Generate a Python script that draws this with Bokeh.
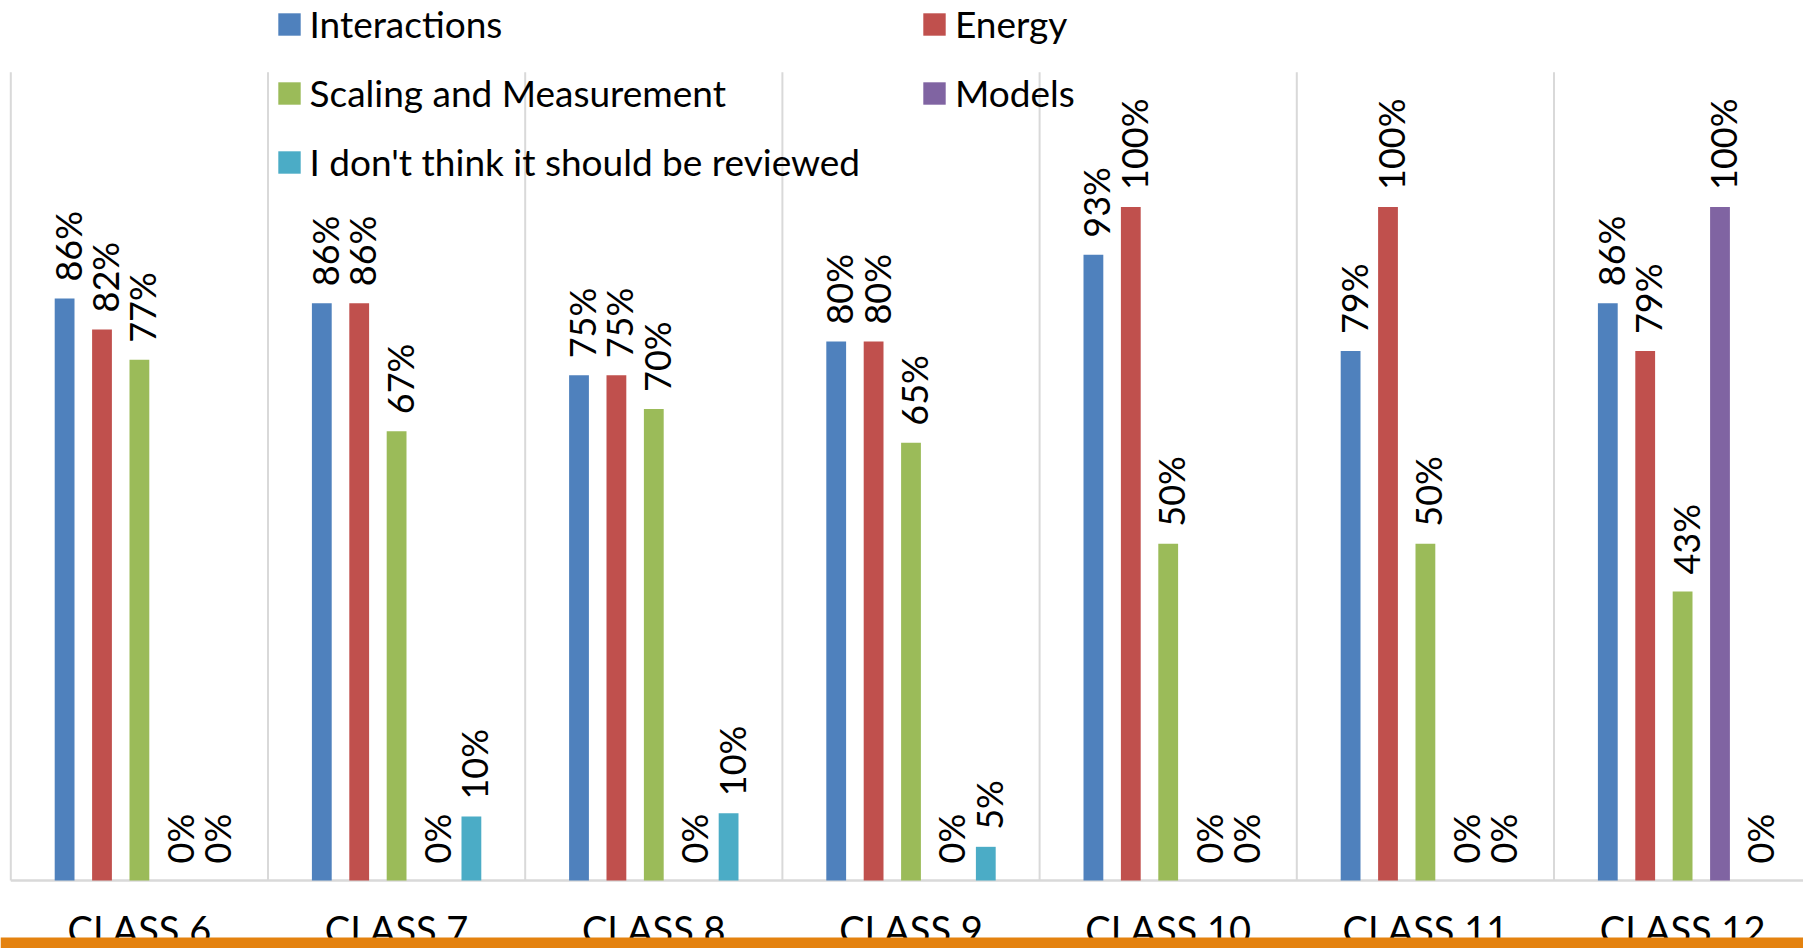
import math
from bokeh.plotting import figure
from bokeh.models import ColumnDataSource, Range1d, Legend, LegendItem, BoxAnnotation
from bokeh.embed import file_html
from bokeh.resources import INLINE
from bokeh.core.properties import value

# ---------------- data ----------------
categories = ["CLASS 6", "CLASS 7", "CLASS 8", "CLASS 9", "CLASS 10", "CLASS 11", "CLASS 12"]
series_names = ["Interactions", "Energy", "Scaling and Measurement", "Models",
                "I don't think it should be reviewed"]
interactions = [0.864, 0.857, 0.750, 0.800, 0.929, 0.786, 0.857]
energy = [0.818, 0.857, 0.750, 0.800, 1.000, 1.000, 0.786]
scaling = [0.773, 0.667, 0.700, 0.650, 0.500, 0.500, 0.429]
models = [0.0, 0.0, 0.0, 0.0, 0.0, 0.0, 1.000]
not_reviewed = [0.0, 0.095, 0.100, 0.050, 0.0, 0.0, 0.0]
series_values = [interactions, energy, scaling, models, not_reviewed]

# ---------------- styling / layout ----------------
colors = ["#4F81BD", "#C0504D", "#9BBB59", "#8064A2", "#4BACC6"]
FONT = "Lato"
GRID = "#D9D9D9"
ORANGE = "#E4820F"

W, H = 1803, 948
cat_px = 257.2          # pixels per category
unit_px = 673.6         # pixels per 100 %
base_px = 880           # baseline position from top
x_start = -10.3 / cat_px
x_end = x_start + W / cat_px
y_end = base_px / unit_px
y_start = -(H - base_px) / unit_px
grid_top = 1.2
band_top = -(937 - base_px) / unit_px
step = 0.1454
bar_w = 0.077

p = figure(width=W, height=H, x_range=Range1d(x_start, x_end), y_range=Range1d(y_start, y_end),
           output_backend="svg", toolbar_location=None,
           min_border_left=0, min_border_right=0, min_border_top=0, min_border_bottom=0)
p.outline_line_color = None
p.xaxis.visible = False
p.yaxis.visible = False
p.xgrid.visible = False
p.ygrid.visible = False

n = len(categories)
centers = [i + 0.5 for i in range(n)]
bounds = list(range(n + 1))

# category separators (vertical gridlines) and baseline
p.segment(x0=bounds, y0=[0] * len(bounds), x1=bounds, y1=[grid_top] * len(bounds),
          line_color=GRID, line_width=2)
p.segment(x0=[0], y0=[0], x1=[n], y1=[0], line_color=GRID, line_width=2.5)

# bars
renderers = []
lab_x, lab_y, lab_t = [], [], []
for k, (name, vals) in enumerate(zip(series_names, series_values)):
    xs = [c + (k - 2) * step for c in centers]
    src = ColumnDataSource(dict(x=xs, top=vals))
    r = p.vbar(x="x", top="top", width=bar_w, source=src, fill_color=colors[k], line_color=None)
    renderers.append(r)
    for xx, v in zip(xs, vals):
        lab_x.append(xx)
        lab_y.append(v)
        lab_t.append(f"{int(v * 100 + 0.5)}%")

# data labels (rotated)
lsrc = ColumnDataSource(dict(x=lab_x, y=lab_y, t=lab_t))
p.text(x="x", y="y", text="t", source=lsrc, angle=math.pi / 2, text_align="left",
       text_baseline="middle", x_offset=3, y_offset=-17, text_color="black",
       text_font=value(FONT), text_font_size="36px")

# category labels
csrc = ColumnDataSource(dict(x=centers, y=[0] * n, t=categories))
p.text(x="x", y="y", text="t", source=csrc, text_align="center", text_baseline="alphabetic",
       y_offset=48, text_color="black", text_font=value(FONT), text_font_size="38px")

# orange band at the bottom
p.add_layout(BoxAnnotation(top=band_top, fill_color=ORANGE, fill_alpha=1.0, line_color=None))

# legend: two columns
def make_legend(idx, loc):
    return Legend(items=[LegendItem(label=series_names[i], renderers=[renderers[i]]) for i in idx],
                  location=loc, orientation="vertical", glyph_width=28, glyph_height=28,
                  label_standoff=7, spacing=24, padding=0, margin=0,
                  border_line_color=None, background_fill_alpha=0,
                  label_text_font=FONT, label_text_font_size="37px", label_text_color="black")

p.add_layout(make_legend([0, 2, 4], (274.5, 764)))
p.add_layout(make_legend([1, 3], (920, 833)))

open("out.html", "w").write(file_html(p, INLINE))
